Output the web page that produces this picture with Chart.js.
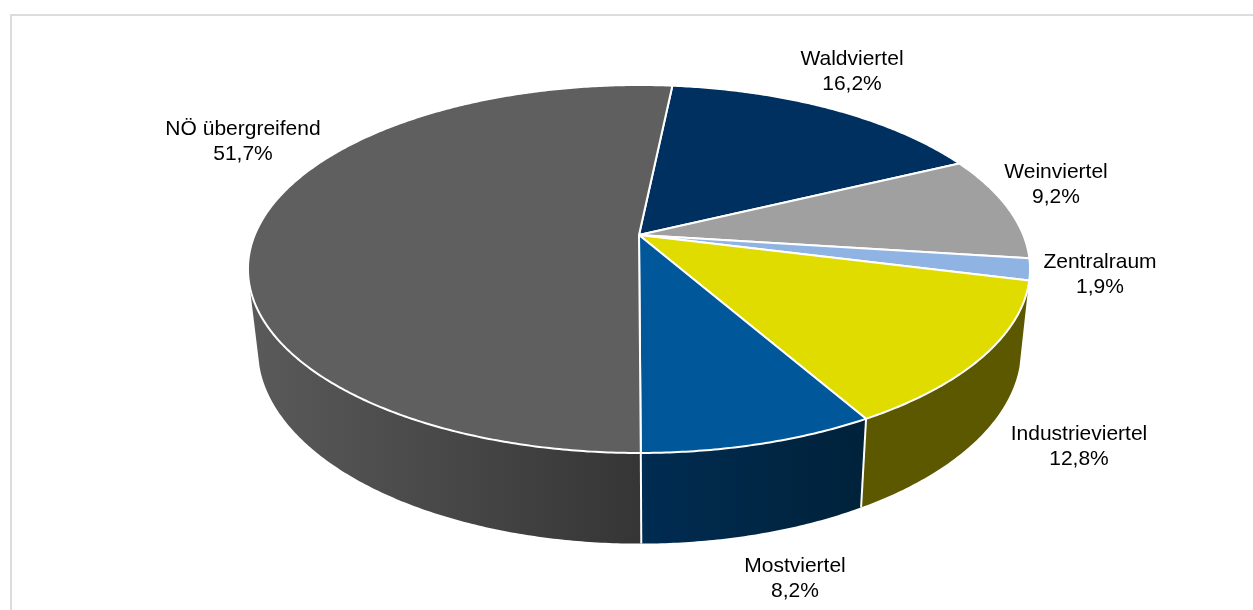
<!DOCTYPE HTML>
<html>
<head>
    <script src="https://cdn.jsdelivr.net/npm/chart.js"></script>
    <style>
        html, body { margin: 0; padding: 0; background: white; overflow: hidden; }
        canvas { display: block; }
    </style>
</head>
<body>
<canvas id="pieChart" width="1253" height="610"></canvas>

<script type="text/javascript">
    const regions = ['Waldviertel', 'Weinviertel', 'Zentralraum', 'Industrieviertel', 'Mostviertel', 'NÖ übergreifend'];
    const shares = [16.2, 9.2, 1.9, 12.8, 8.2, 51.7];
    const topColors = ['#00305f', '#a0a0a0', '#8fb4e3', '#e0dc00', '#00589b', '#5f5f5f'];
    const wallLeft = ['#00305f', '#a0a0a0', '#8fb4e3', '#5c5800', '#002c52', '#5a5a5a'];
    const wallRight = ['#00305f', '#a0a0a0', '#8fb4e3', '#5c5800', '#00223a', '#353535'];

    // label centres (first line), same order as regions
    const labelX = [852, 1056, 1100, 1079, 795, 243];
    const labelY = [59, 172, 262, 434, 566, 129];

    // the pie is seen in perspective, so the unit circle goes through a projection
    const topFace = { cx: 639, cy: 235, a: 384.3, b: 177.7, k: 0.1848 };
    const bottomFace = { cx: 639.5, cy: 313, a: 375, b: 188, k: 0.1848 };
    const minFacing = 0.27;

    function project(face, angle) {
        const u = Math.cos(angle), v = Math.sin(angle);
        const s = 1 / (1 - face.k * v);
        return { x: face.cx + face.a * u * s, y: face.cy + face.b * v * s };
    }

    function anglesOf(arc) {
        const list = [];
        const step = Math.PI / 360;
        for (let a = arc.startAngle; a < arc.endAngle; a += step) {
            list.push(a);
        }
        list.push(arc.endAngle);
        return list;
    }

    const perspectivePie = {
        id: 'perspectivePie',
        beforeDraw(chart) {
            const ctx = chart.ctx;
            ctx.save();
            ctx.strokeStyle = '#dcdcdc';
            ctx.lineWidth = 2;
            ctx.strokeRect(11, 15, 1400, 800);
            ctx.restore();
        },
        beforeDatasetsDraw(chart) {
            const ctx = chart.ctx;
            const arcs = chart.getDatasetMeta(0).data;
            ctx.save();

            // side walls
            arcs.forEach((arc, i) => {
                const visible = anglesOf(arc).filter(a => Math.sin(a) >= minFacing);
                if (visible.length < 2) return;
                const top = visible.map(a => project(topFace, a));
                const bottom = visible.map(a => project(bottomFace, a)).reverse();
                const xs = top.concat(bottom).map(p => p.x);
                const grad = ctx.createLinearGradient(Math.min(...xs), 0, Math.max(...xs), 0);
                grad.addColorStop(0, wallLeft[i]);
                grad.addColorStop(1, wallRight[i]);
                ctx.beginPath();
                top.concat(bottom).forEach((p, n) => n ? ctx.lineTo(p.x, p.y) : ctx.moveTo(p.x, p.y));
                ctx.closePath();
                ctx.fillStyle = grad;
                ctx.fill();
            });

            // white seams between the walls
            ctx.strokeStyle = 'white';
            ctx.lineWidth = 2;
            arcs.forEach(arc => {
                if (Math.sin(arc.endAngle) < minFacing) return;
                const p = project(topFace, arc.endAngle);
                const q = project(bottomFace, arc.endAngle);
                ctx.beginPath();
                ctx.moveTo(p.x, p.y);
                ctx.lineTo(q.x, q.y);
                ctx.stroke();
            });

            // top face
            ctx.lineWidth = 2;
            ctx.lineJoin = 'round';
            arcs.forEach((arc, i) => {
                ctx.beginPath();
                ctx.moveTo(topFace.cx, topFace.cy);
                anglesOf(arc).forEach(a => {
                    const p = project(topFace, a);
                    ctx.lineTo(p.x, p.y);
                });
                ctx.closePath();
                ctx.fillStyle = topColors[i];
                ctx.fill();
                ctx.stroke();
            });

            // labels
            ctx.fillStyle = '#000000';
            ctx.font = '21px "Liberation Sans", Arial, sans-serif';
            ctx.textAlign = 'center';
            ctx.textBaseline = 'middle';
            regions.forEach((name, i) => {
                ctx.fillText(name, labelX[i], labelY[i]);
                ctx.fillText(shares[i].toFixed(1).replace('.', ',') + '%', labelX[i], labelY[i] + 25);
            });

            ctx.restore();
            return false;
        }
    };

    new Chart(document.getElementById('pieChart'), {
        type: 'pie',
        data: {
            labels: regions,
            datasets: [{ data: shares, backgroundColor: topColors }]
        },
        options: {
            responsive: false,
            animation: false,
            rotation: 5.9,
            plugins: { legend: { display: false }, tooltip: { enabled: false } }
        },
        plugins: [perspectivePie]
    });
</script>
</body>
</html>
